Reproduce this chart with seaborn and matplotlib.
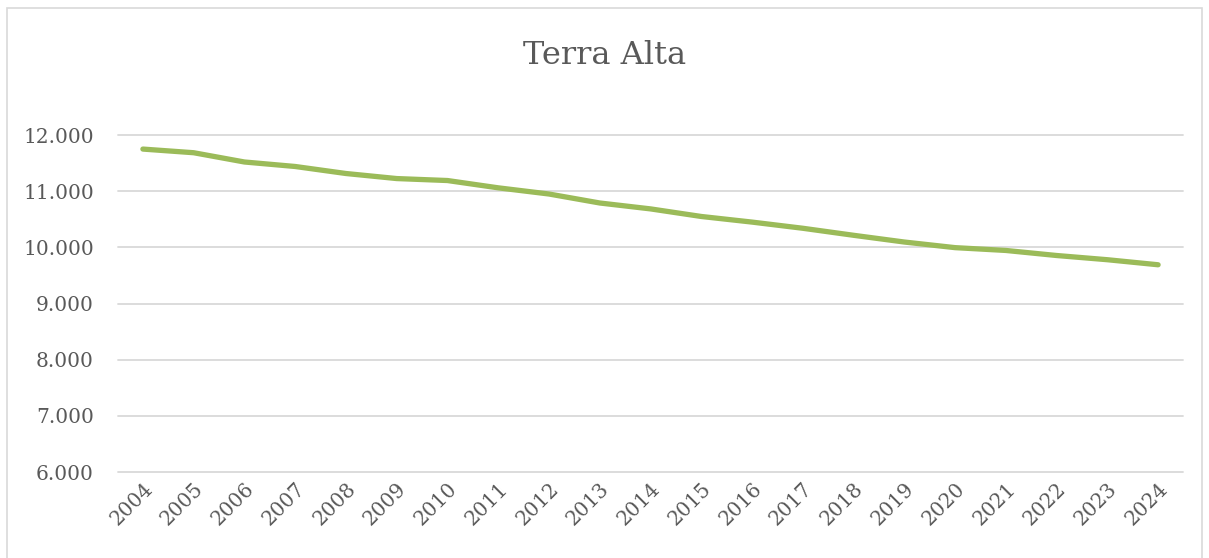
"""Terra Alta population line chart, Excel-style."""

import matplotlib

matplotlib.use("Agg")

import matplotlib.pyplot as plt
import matplotlib.ticker as mticker
import pandas as pd
import seaborn as sns
from matplotlib.patches import Rectangle

years = [str(y) for y in range(2004, 2025)]
population = [
    11750, 11685, 11520, 11440, 11315, 11225, 11190, 11060, 10950, 10790,
    10685, 10550, 10450, 10340, 10215, 10095, 9995, 9945, 9855, 9780, 9690,
]
y_ticks = [6000, 7000, 8000, 9000, 10000, 11000, 12000]

GREEN = "#9BBB59"
GRID = "#D9D9D9"
TEXT = "#595959"

sns.set_theme(style="white")
plt.rcParams["font.family"] = ["DejaVu Serif"]

df = pd.DataFrame({"year": years, "population": population})

fig = plt.figure(figsize=(12.09, 5.58), dpi=100)
ax = fig.add_axes([0.0972, 0.1541, 0.8817, 0.6039])

sns.lineplot(
    data=df,
    x="year",
    y="population",
    ax=ax,
    color=GREEN,
    linewidth=3.8,
    solid_capstyle="round",
    zorder=3,
)

ax.set_xlim(-0.5, len(years) - 0.5)
ax.set_ylim(6000, 12000)
ax.set_yticks(y_ticks)
ax.yaxis.set_major_formatter(
    mticker.FuncFormatter(lambda v, _: f"{int(v):,}".replace(",", "."))
)
ax.grid(True, axis="y", color=GRID, linewidth=1.3)
for gl in ax.get_ygridlines():
    gl.set_clip_on(False)
ax.set_axisbelow(True)
for side in ["top", "right", "left", "bottom"]:
    ax.spines[side].set_visible(False)

ax.tick_params(axis="both", length=0, labelsize=14.5, labelcolor=TEXT)
ax.tick_params(axis="y", pad=17)
ax.tick_params(axis="x", pad=5)
plt.setp(ax.get_xticklabels(), rotation=45, ha="right", rotation_mode="anchor")
ax.set_xlabel("")
ax.set_ylabel("")

fig.text(0.5, 0.9, "Terra Alta", ha="center", va="center", fontsize=23, color=TEXT)

# light chart border like the spreadsheet frame
fig.patches.append(
    Rectangle(
        (0.006, -0.01), 0.988, 0.995,
        transform=fig.transFigure, fill=False,
        edgecolor=GRID, linewidth=1.2,
    )
)

fig.savefig("out.png", dpi=100)
